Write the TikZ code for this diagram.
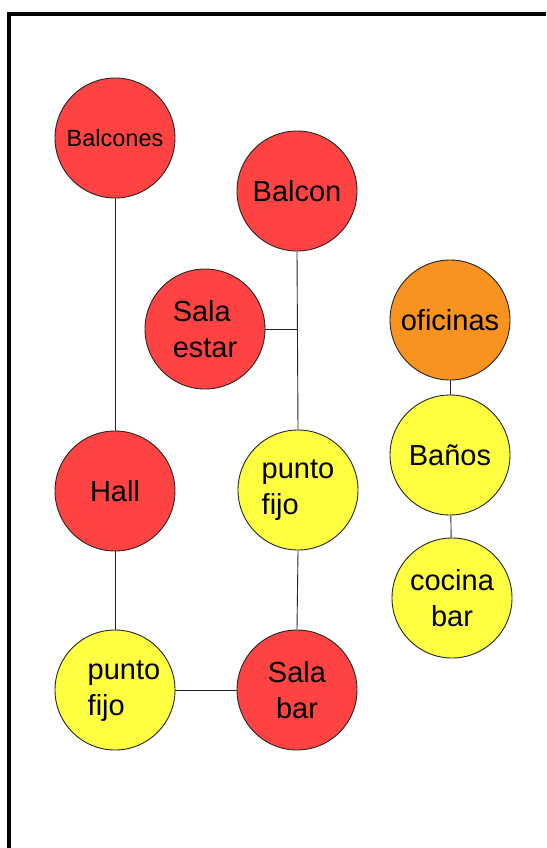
\documentclass[tikz,border=0pt]{standalone}
\usepackage{fontspec}
\setmainfont{Liberation Sans}
\definecolor{cred}{HTML}{FF4242}
\definecolor{cyellow}{HTML}{FFFF42}
\definecolor{corange}{HTML}{F7931E}
\tikzset{
  room/.style={circle, draw=black!85, line width=0.9pt, minimum size=120pt, inner sep=0pt,
    font=\fontsize{29}{36}\selectfont, text=black},
  redroom/.style={room, fill=cred},
  yelroom/.style={room, fill=cyellow},
  orgroom/.style={room, fill=corange},
  link/.style={draw=black!85, line width=0.9pt}
}
\begin{document}
\begin{tikzpicture}[x=1pt,y=-1pt]
\useasboundingbox (0,0) rectangle (546,848);
\fill[white] (0,0) rectangle (546,848);
\draw[line width=4pt] (9,848) -- (9,14) -- (546,14);

\node[redroom, font=\fontsize{23.5}{28}\selectfont] (balcones) at (115,138) {Balcones};
\node[redroom] (balcon) at (297,191) {Balcon};
\node[redroom, align=left] (salaestar) at (205,329) {Sala\\estar};
\node[orgroom] (oficinas) at (450,320) {oficinas};
\node[yelroom] (banos) at (450,455) {Baños};
\node[yelroom, align=center] (cocina) at (452,598) {cocina\\bar};
\node[redroom] (hall) at (115,491) {Hall};
\node[yelroom, align=left] (pf1) at (298,490) {punto\\fijo};
\node[yelroom] (pf2) at (115,690) {\hspace*{18pt}\begin{tabular}{@{}l@{}}punto\\fijo\end{tabular}};
\node[redroom, align=center] (salabar) at (297,690) {Sala\\bar};

\coordinate (jn) at (salaestar.east -| balcon.south);
\draw[link] (balcones) -- (hall);
\draw[link] (balcon.south) -- (pf1.north);
\draw[link] (salaestar.east) -- (jn);
\draw[link] (pf1.south) -- (salabar.north);
\draw[link] (hall) -- (pf2);
\draw[link] (pf2) -- (salabar);
\draw[link] (oficinas) -- (banos);
\draw[link] (banos) -- (cocina);
\end{tikzpicture}
\end{document}
